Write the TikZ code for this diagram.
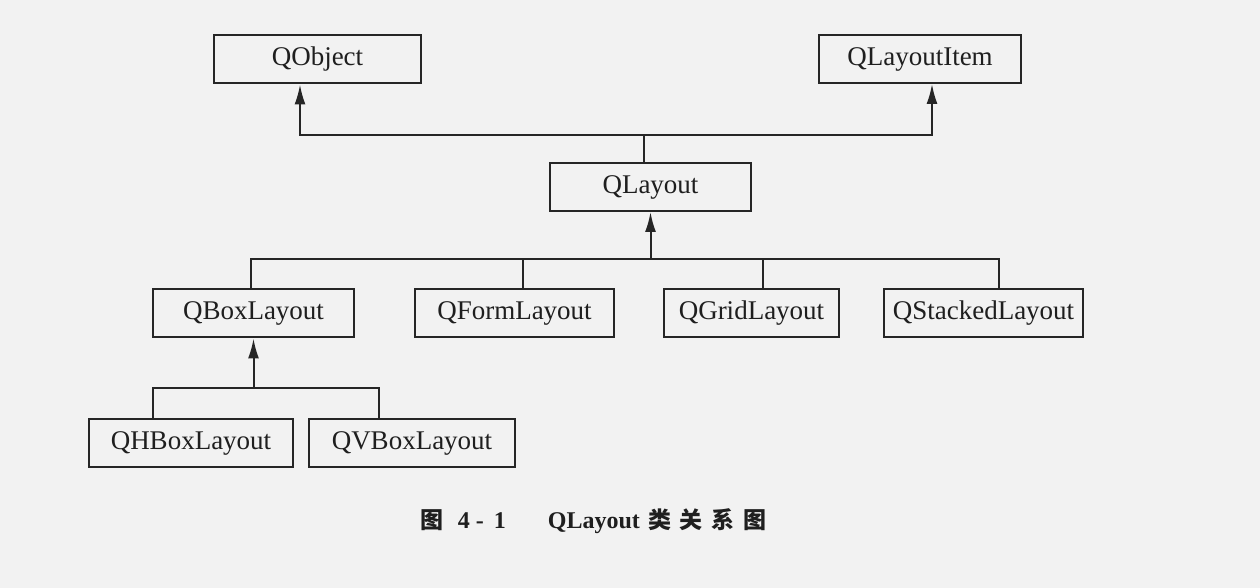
\documentclass[tikz,border=0pt]{standalone}
\usepackage{fontspec}
\setmainfont{Liberation Serif}
\newfontfamily\cjk{Noto Sans CJK SC}
\usepackage{tikz}
\usetikzlibrary{positioning}
\usetikzlibrary{arrows.meta}
\tikzset{gen/.tip={Latex[length=10pt,width=5.5pt]}}
\tikzset{cls/.style={draw=black!85,text=black!88,line width=1pt,minimum height=24pt,inner sep=2pt,
    text height=9.5pt,text depth=3pt,font=\fontsize{13.5}{16}\selectfont}}
\tikzset{link/.style={draw=black!85,line width=1pt}}

\begin{document}
\begin{tikzpicture}[every edge/.style={link}]
        \fill[black!5] (0,0) rectangle (630pt,-294pt);
        \useasboundingbox (0,0) rectangle (630pt,-294pt);

        \node (qobject)     [cls,minimum width=103.5pt] at (158.75pt,-29.75pt) {QObject};
        \node (qlayoutitem) [cls,minimum width=101pt]   at (460pt,-29.5pt)     {QLayoutItem};
        \node (qlayout)     [cls,minimum width=100.5pt] at (325.25pt,-93.5pt)  {QLayout};

        \node (qbox)     [cls,minimum width=100.5pt] at (126.75pt,-156.75pt) {QBoxLayout};
        \node (qform)    [cls,minimum width=99.5pt,right=29.5pt of qbox]     {QFormLayout};
        \node (qgrid)    [cls,minimum width=87.5pt,right=24pt of qform]      {QGridLayout};
        \node (qstacked) [cls,minimum width=99.5pt,right=21.5pt of qgrid]    {QStackedLayout};

        \node (qhbox) [cls,minimum width=102pt] at (95.5pt,-221.75pt) {QHBoxLayout};
        \node (qvbox) [cls,minimum width=103pt,right=7pt of qhbox]    {QVBoxLayout};

        \node (caption) at (297pt,-260.5pt) {\color{black!88}\fontsize{12}{14}\selectfont\bfseries
            {\cjk\fontsize{11.5}{14}\selectfont 图}\hspace{7pt}4\hspace{3pt}-\hspace{5pt}1\hspace{21pt}QLayout\hspace{4pt}{\cjk\fontsize{11.5}{14}\selectfont 类\hspace{4.5pt}关\hspace{4.5pt}系\hspace{4.5pt}图}};

        \coordinate (topbus) at (0,-67.5pt);
        \coordinate (midbus) at (0,-129.5pt);
        \coordinate (lowbus) at (0,-194pt);

        \draw[link] ([xshift=-3.25pt]qlayout.north) -- ([xshift=-3.25pt]qlayout.north |- topbus);
        \draw[link,gen-gen] ([xshift=-8.75pt]qobject.south) |- (topbus -| qlayout) -| ([xshift=6pt]qlayoutitem.south);

        \draw[link,-gen] (midbus -| qlayout) -- (qlayout.south);
        \draw[link] ([xshift=-1.25pt]qbox.north) |- (midbus -| qlayout) -| ([xshift=7.75pt]qstacked.north);
        \draw[link] ([xshift=4.25pt]qform.north) -- ([xshift=4.25pt]qform.north |- midbus);
        \draw[link] ([xshift=5.75pt]qgrid.north) -- ([xshift=5.75pt]qgrid.north |- midbus);

        \draw[link,-gen] (lowbus -| qbox) -- (qbox.south);
        \draw[link] ([xshift=-19.2pt]qhbox.north) |- (lowbus -| qbox) -| ([xshift=-16.5pt]qvbox.north);
    \end{tikzpicture}
\end{document}
